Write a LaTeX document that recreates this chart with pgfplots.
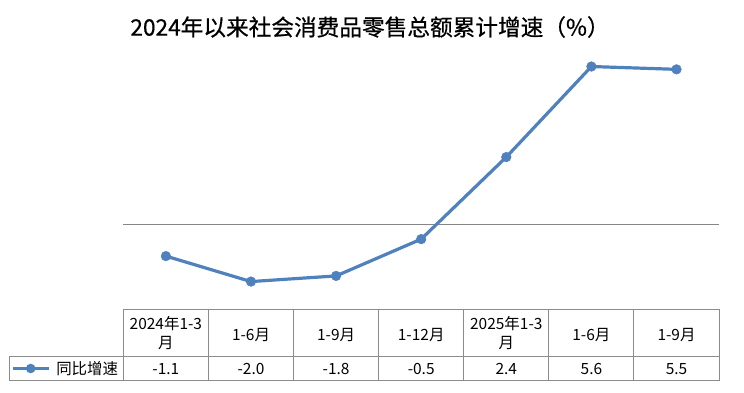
\documentclass[border=0pt]{standalone}
\usepackage{pgfplots}
\pgfplotsset{compat=1.18}
\usepackage{fontspec}
\setmainfont{Noto Sans CJK SC}
\newfontfamily\titlefont{Noto Sans CJK SC}[FakeBold=0.6]
\definecolor{lineblue}{HTML}{4F81BD}
\definecolor{gridgray}{HTML}{868686}
\definecolor{tabgray}{HTML}{8C8C8C}
\begin{document}
\begin{tikzpicture}
\useasboundingbox (0,0) rectangle (558pt,-294.75pt);
\begin{axis}[
  scale only axis, width=446.8pt, height=191.0pt,
  anchor=north west, at={(92.5pt,-41.4pt)},
  xmin=-0.5, xmax=6.5, ymin=-3, ymax=6,
  hide axis, clip=false,
]
\addplot[gridgray, line width=0.75pt, forget plot] coordinates {(-0.5,0) (6.5,0)};
\addplot[lineblue, line width=2.4pt, mark=*, mark size=3.6pt,
  mark options={fill=lineblue, draw=lineblue, line width=0.4pt}]
  coordinates {(0,-1.1) (1,-2.0) (2,-1.8) (3,-0.5) (4,2.4) (5,5.6) (6,5.5)};
\end{axis}
\begin{scope}[x=0.75pt, y=-0.75pt]
  \node[font=\titlefont\fontsize{17pt}{20pt}\selectfont, anchor=center] at (370,27) {2024年以来社会消费品零售总额累计增速（\%）};
  % table grid
  \draw[tabgray, line width=0.75pt] (123.3,309.3) -- (719,309.3);
  \draw[tabgray, line width=0.75pt] (9.3,356.7) -- (719,356.7);
  \draw[tabgray, line width=0.75pt] (9.3,380.7) -- (719,380.7);
  \draw[tabgray, line width=0.75pt] (9.3,356.7) -- (9.3,380.7);
  \foreach \i in {0,...,7} {
    \draw[tabgray, line width=0.75pt] ({123.3+85.1*\i},309.3) -- ({123.3+85.1*\i},380.7);
  }
  \begin{scope}[every node/.style={font=\fontsize{11.6pt}{13.3pt}\selectfont, inner sep=0pt, anchor=center}]
  \node[align=center] at (165.9,333) {2024年1-3\\[0.5pt]月};
  \node at (251.0,335) {1-6月};
  \node at (336.1,335) {1-9月};
  \node at (421.2,335) {1-12月};
  \node[align=center] at (506.3,333) {2025年1-3\\[0.5pt]月};
  \node at (591.4,335) {1-6月};
  \node at (676.5,335) {1-9月};
  \node at (165.9,369) {-1.1};
  \node at (251.0,369) {-2.0};
  \node at (336.1,369) {-1.8};
  \node at (421.2,369) {-0.5};
  \node at (506.3,369) {2.4};
  \node at (591.4,369) {5.6};
  \node at (676.5,369) {5.5};
  \node[anchor=west] at (56,368.5) {同比增速};
  \end{scope}
  \draw[lineblue, line width=2.4pt] (12.7,368.5) -- (49.3,368.5);
  \fill[lineblue] (30.7,368.5) circle (4.8);
\end{scope}
\end{tikzpicture}
\end{document}
